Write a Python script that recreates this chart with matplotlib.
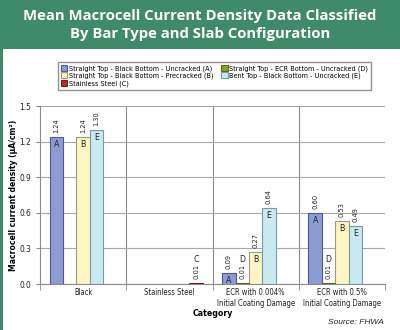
import numpy as np
import matplotlib
matplotlib.use("Agg")
import matplotlib.pyplot as plt
from matplotlib.patches import Rectangle

plt.rcParams["font.family"] = ["DejaVu Sans"]
plt.rcParams["font.stretch"] = "condensed"

# ---- data ----
categories = ["Black", "Stainless Steel",
              "ECR with 0.004%\nInitial Coating Damage",
              "ECR with 0.5%\nInitial Coating Damage"]
series_names = ["Straight Top - Black Bottom - Uncracked (A)",
                "Straight Top - Black Bottom - Precracked (B)",
                "Stainless Steel (C)",
                "Straight Top - ECR Bottom - Uncracked (D)",
                "Bent Top - Black Bottom - Uncracked (E)"]
series_letters = ["A", "B", "C", "D", "E"]
vals_A = [1.24, np.nan, 0.09, 0.60]
vals_B = [1.24, np.nan, 0.27, 0.53]
vals_C = [np.nan, 0.01, np.nan, np.nan]
vals_D = [np.nan, np.nan, 0.01, 0.01]
vals_E = [1.30, np.nan, 0.64, 0.49]
yticks = [0.0, 0.3, 0.6, 0.9, 1.2, 1.5]

values = [vals_A, vals_B, vals_C, vals_D, vals_E]
faces = ["#8c9bd2", "#fff6c4", "#c0282c", "#8ca02c", "#c9e9f0"]
edges = ["#4a5a96", "#9a9a80", "#7a1a1a", "#5a6a1a", "#7a9aa4"]
slot = {"A": 0, "D": 1, "B": 2, "E": 3, "C": 4}

W, H = 400, 330
fig = plt.figure(figsize=(W / 100, H / 100), dpi=100)

# green header band and left strip
green = "#3f8a69"
fig.patches.append(Rectangle((0, 1 - 49 / H), 1, 49 / H, transform=fig.transFigure,
                             facecolor=green, edgecolor="none", zorder=0))
fig.patches.append(Rectangle((0, 0), 2.5 / W, 1, transform=fig.transFigure,
                             facecolor=green, edgecolor="none", zorder=0))
for yy, line in [(16, "Mean Macrocell Current Density Data Classified"),
                 (34, "By Bar Type and Slab Configuration")]:
    fig.text(0.5, 1 - yy / H, line, ha="center", va="center", color="white",
             fontsize=10.7, fontweight="bold", fontstretch="normal",
             family=["Open Sans", "DejaVu Sans"])

ax = fig.add_axes([40 / W, 1 - 284 / H, 345 / W, 178 / H])
x = np.arange(len(categories))
bw = 0.155
handles = []
for name, letter, v, fc, ec in zip(series_names, series_letters, values, faces, edges):
    pos = x + (slot[letter] - 2) * bw
    b = ax.bar(pos, v, bw, color=fc, edgecolor=ec, linewidth=0.8, zorder=3, label=name)
    handles.append(b)
    for xp, val in zip(pos, v):
        if np.isnan(val):
            continue
        ax.annotate(f"{val:.2f}", (xp, val), xytext=(0, 3), textcoords="offset points",
                    rotation=90, ha="center", va="bottom", fontsize=5.3, color="#222222")
        if val < 0.05:
            ax.annotate(letter, (xp, val), xytext=(0, 13.5), textcoords="offset points",
                        ha="center", va="bottom", fontsize=6.3, color="#222222")
        else:
            ax.annotate(letter, (xp, val), xytext=(0, -2), textcoords="offset points",
                        ha="center", va="top", fontsize=6.3, color="#222222")

ax.set_xlim(-0.5, len(categories) - 0.5)
ax.set_ylim(0, 1.5)
ax.set_yticks(yticks)
ax.set_yticklabels([f"{t:.1f}" for t in yticks])
ax.yaxis.grid(True, color="#a8a8a8", linewidth=0.8, zorder=0)
for b in np.arange(0.5, len(categories) - 0.5, 1.0):
    ax.axvline(b, color="#8a8a8a", linewidth=0.8, zorder=1)
ax.set_xticks(x)
ax.set_xticklabels(categories, fontsize=5.5, color="#222222", linespacing=1.2)
ax.set_xticks(np.arange(-0.5, len(categories), 1.0), minor=True)
ax.tick_params(axis="x", which="major", length=0, pad=3)
ax.tick_params(axis="x", which="minor", length=4, color="#8a8a8a")
ax.tick_params(axis="y", labelsize=6, labelcolor="#222222", length=3, color="#8a8a8a")
for s in ["top", "right"]:
    ax.spines[s].set_visible(False)
ax.spines["left"].set_color("#8a8a8a")
ax.spines["bottom"].set_color("#8a8a8a")
ax.set_xlabel("Category", fontsize=6.3, fontweight="bold")
ax.xaxis.set_label_coords(0.5, -(313 - 284) / 178, transform=ax.transAxes)
ax.xaxis.label.set_va("center")
ax.set_ylabel("Macrocell current density (µA/cm²)", fontsize=6.1, fontweight="bold")
ax.yaxis.set_label_coords(-(40 - 14) / 345, 0.5, transform=ax.transAxes)
ax.yaxis.label.set_va("center")

fig.legend(handles=handles, loc="upper left", bbox_to_anchor=(58 / W, 1 - 62 / H),
           ncol=2, fontsize=5.2, frameon=True, fancybox=False, edgecolor="#777777",
           handlelength=0.9, handleheight=0.9, handletextpad=0.2, columnspacing=1.1,
           borderpad=0.4, labelspacing=0.08, borderaxespad=0)

fig.text(1 - 16 / W, 1 - 322 / H, "Source: FHWA", ha="right", va="center",
         fontsize=6, style="italic", color="#222222",
         family=["Liberation Sans", "DejaVu Sans"], fontstretch="normal")

fig.savefig("out.png", dpi=100)
